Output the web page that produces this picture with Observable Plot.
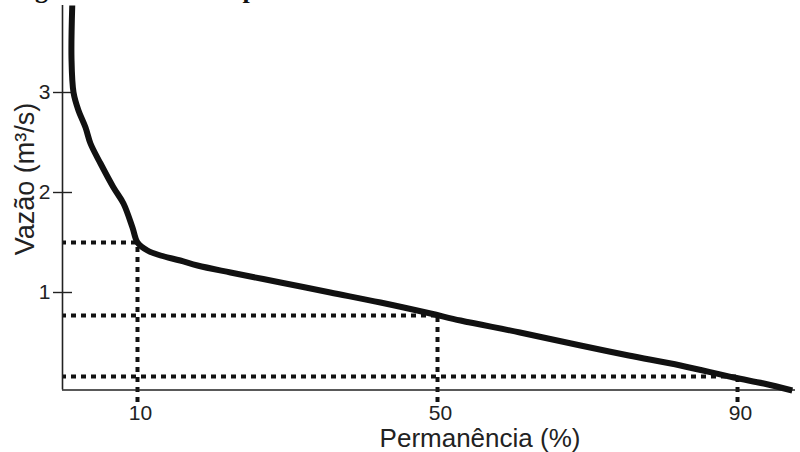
<!DOCTYPE html>
<html>
<head>
<meta charset="utf-8">
<script src="https://cdn.jsdelivr.net/npm/d3@7"></script>
<script src="https://cdn.jsdelivr.net/npm/@observablehq/plot@0.6"></script>
<style>
  html, body { margin: 0; padding: 0; background: #fff; }
  #wrap { position: relative; width: 800px; height: 452px; overflow: hidden; }
  #cap { position: absolute; left: 12px; top: -23px; font: bold 26px "Liberation Serif", serif; line-height: 26px; color: #111; white-space: nowrap; }
  #chart { position: absolute; left: 0; top: 0; }
</style>
</head>
<body>
<div id="wrap">
  <div id="cap">Figura 3 – Curva de permanência</div>
  <div id="chart"></div>
</div>
<script>
// Flow duration curve
const permanencia = [1.3, 1.2, 1.47, 2.13, 3.07, 3.73, 5.07, 6.8, 8.13, 9.33, 10, 11.33, 13.07, 15.7, 18, 22.4, 29.07, 35.7, 42.4, 49.07, 53.07, 61, 69.07, 75.5, 82.4, 89.5, 93.5, 97.3];
const vazao       = [3.87, 3.34, 3.0, 2.82, 2.65, 2.49, 2.29, 2.05, 1.89, 1.65, 1.5, 1.42, 1.37, 1.32, 1.27, 1.20, 1.10, 1.00, 0.90, 0.79, 0.72, 0.60, 0.47, 0.37, 0.27, 0.15, 0.09, 0.02];

// Reference levels Q10, Q50, Q90
const refPerm = [10, 50, 90];
const refQ    = [1.5, 0.77, 0.16];

const xTicks = [10, 50, 90];
const yTicks = [1, 2, 3];

const curve = permanencia.map((p, i) => ({p, q: vazao[i]}));
const refs = refPerm.map((p, i) => ({p, q: refQ[i]}));

const font = '"Liberation Sans", Arial, sans-serif';

const chart = Plot.plot({
  width: 800,
  height: 452,
  marginLeft: 62,
  marginRight: 5,
  marginTop: 5,
  marginBottom: 60,
  style: {fontFamily: font, color: "#222", background: "transparent"},
  x: {domain: [0, 97.73]},
  y: {domain: [0, 3.87]},
  marks: [
    // dotted reference lines
    Plot.ruleY(refs, {y: "q", x1: 0, x2: "p", stroke: "#111", strokeWidth: 4, strokeDasharray: "5,5", strokeDashoffset: -9}),
    Plot.ruleX(refs, {x: "p", y1: -0.1, y2: "q", stroke: "#111", strokeWidth: 4, strokeDasharray: "5,5"}),
    // axes lines
    Plot.ruleY([0.025], {stroke: "#222", strokeWidth: 1.6}),
    Plot.ruleX([0], {y1: 0.025, y2: 3.87, stroke: "#222", strokeWidth: 1.6}),
    // y ticks crossing the axis
    Plot.axisY({ticks: yTicks, tickSize: 19, dx: 10, text: null, label: null, stroke: "#222", strokeWidth: 1.4}),
    Plot.axisY({ticks: yTicks, tickSize: 0, tickPadding: 12, fontSize: 21, label: null, tickFormat: d => d}),
    Plot.axisX({ticks: xTicks, tickSize: 0, tickPadding: 13, fontSize: 21, label: null, dx: 3, tickFormat: d => d}),
    // curve
    Plot.line(curve, {x: "p", y: "q", curve: "catmull-rom", stroke: "#111", strokeWidth: 6, strokeLinecap: "butt", strokeLinejoin: "round"}),
    // axis titles
    Plot.text(["Permanência (%)"], {frameAnchor: "bottom", dy: 46, dx: 51, fontSize: 26, fill: "#222", lineAnchor: "middle"}),
    Plot.text(["Vazão (m³/s)"], {frameAnchor: "left", dx: -37, dy: -20, rotate: -90, textAnchor: "middle", fontSize: 27, fill: "#222"})
  ]
});
document.getElementById("chart").appendChild(chart);
</script>
</body>
</html>
